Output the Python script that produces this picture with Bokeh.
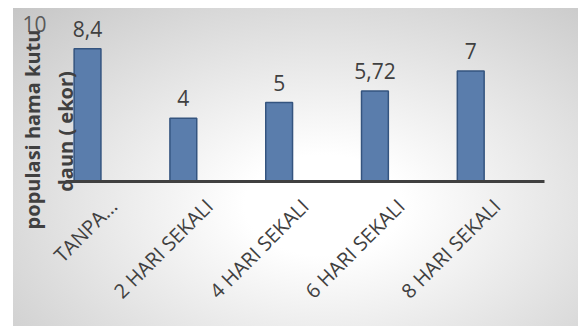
from bokeh.plotting import figure
from bokeh.models import Range1d, FixedTicker, Label, ColumnDataSource
from bokeh.core.properties import value
from bokeh.transform import dodge
from bokeh.embed import file_html
from bokeh.resources import INLINE
from math import pi

categories = ["TANPA...", "2 HARI SEKALI", "4 HARI SEKALI", "6 HARI SEKALI", "8 HARI SEKALI"]
values = [8.4, 4, 5, 5.72, 7]
value_labels = [f"{v:g}".replace(".", ",") for v in values]
y_ticks = [10]
y_title_1 = "populasi hama kutu"
y_title_2 = "daun ( ekor)"

idx = list(range(len(categories)))
src = ColumnDataSource(dict(idx=idx, val=values, lab=value_labels))

# layout (pixels): plot area spans x 65..544, y 23 (=10) .. 181 (=0)
W, H = 578, 326
X0, X1, YT, YB = 65, 544, 23, 181
n = len(categories)
pxu = (X1 - X0) / n
pyu = (YB - YT) / 10.0
x_start = -0.5 - X0 / pxu
x_end = n - 0.5 + (W - X1) / pxu
y_end = 10 + YT / pyu
y_start = -(H - YB) / pyu

p = figure(width=W, height=H, output_backend="svg", toolbar_location=None,
           x_range=Range1d(x_start, x_end), y_range=Range1d(y_start, y_end),
           min_border=0)
p.background_fill_color = None
p.border_fill_color = None
p.outline_line_color = None
p.styles = {"background": "radial-gradient(ellipse at 55% 62%, #ffffff 18%, #c6c6c6 100%) 13px 8px / 565px 318px no-repeat, #ffffff"}
p.grid.grid_line_color = None

xpos = dodge("idx", -0.27)
p.vbar(x=xpos, top="val", width=0.28, source=src,
       fill_color="#5A7DAC", line_color="#34547F", line_width=1.5)
p.text(x=xpos, y="val", text="lab", source=src, text_align="center",
       text_baseline="bottom", y_offset=-12, text_font_size="21px",
       text_color="#404040", text_font=value("Open Sans"))

p.xaxis.fixed_location = 0
p.xaxis.bounds = (-0.5, n - 0.5)
p.xaxis.ticker = FixedTicker(ticks=idx)
p.xaxis.major_label_overrides = {i: c for i, c in zip(idx, categories)}
p.xaxis.axis_line_color = "#404040"
p.xaxis.axis_line_width = 3
p.xaxis.major_tick_line_color = None
p.xaxis.minor_tick_line_color = None
p.xaxis.major_label_orientation = pi / 4
p.xaxis.major_label_text_font = "Open Sans"
p.xaxis.major_label_text_font_size = "20px"
p.xaxis.major_label_text_color = "#404040"
p.xaxis.major_label_standoff = 15

p.yaxis.fixed_location = -0.5
p.yaxis.ticker = FixedTicker(ticks=y_ticks)
p.yaxis.axis_line_color = None
p.yaxis.major_tick_line_color = None
p.yaxis.minor_tick_line_color = None
p.yaxis.major_label_text_font = "Open Sans"
p.yaxis.major_label_text_font_size = "21px"
p.yaxis.major_label_text_color = "#595959"
p.yaxis.major_label_standoff = 13

p.add_layout(Label(x=32, y=129, x_units="canvas", y_units="canvas", text=y_title_1,
                   angle=pi / 2, text_align="center", text_baseline="middle",
                   text_font="Open Sans", text_font_style="bold", text_font_size="20px",
                   text_color="#404040"))
p.add_layout(Label(x=65, y=131, x_units="canvas", y_units="canvas", text=y_title_2,
                   angle=pi / 2, text_align="center", text_baseline="middle",
                   text_font="Open Sans", text_font_style="bold", text_font_size="20px",
                   text_color="#404040"))

open("out.html", "w").write(file_html(p, INLINE))
